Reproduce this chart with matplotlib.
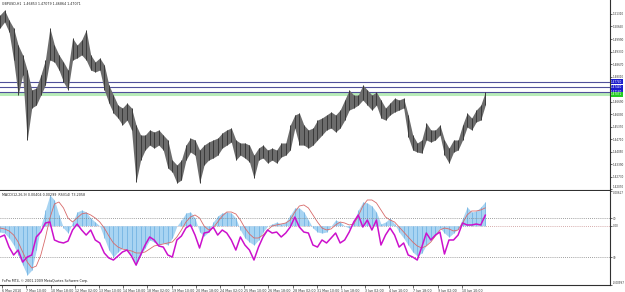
import matplotlib
matplotlib.use("Agg")
import matplotlib.pyplot as plt
import matplotlib.transforms as mtransforms
import numpy as np

# one sample every 6 H1 bars
step = 6

price_hi = [1.5126, 1.5152, 1.5099, 1.5057, 1.4967, 1.4915, 1.4835, 1.4730, 1.4740, 1.4809,
            1.4888, 1.5057, 1.4967, 1.4915, 1.4878, 1.4835, 1.5004, 1.4967, 1.4994, 1.5047,
            1.4915, 1.4878, 1.4899, 1.4862, 1.4756, 1.4703, 1.4650, 1.4635, 1.4661, 1.4635,
            1.4545, 1.4492, 1.4492, 1.4519, 1.4508, 1.4519, 1.4492, 1.4466, 1.4360, 1.4334,
            1.4360, 1.4439, 1.4476, 1.4466, 1.4413, 1.4439, 1.4455, 1.4466, 1.4476, 1.4503,
            1.4519, 1.4529, 1.4466, 1.4450, 1.4450, 1.4439, 1.4386, 1.4423, 1.4439, 1.4413,
            1.4423, 1.4413, 1.4450, 1.4450, 1.4545, 1.4598, 1.4608, 1.4545, 1.4519, 1.4529,
            1.4571, 1.4582, 1.4598, 1.4614, 1.4598, 1.4624, 1.4677, 1.4730, 1.4703, 1.4703,
            1.4756, 1.4730, 1.4703, 1.4719, 1.4677, 1.4635, 1.4661, 1.4687, 1.4677, 1.4687,
            1.4598, 1.4492, 1.4450, 1.4466, 1.4556, 1.4519, 1.4519, 1.4545, 1.4466, 1.4423,
            1.4466, 1.4466, 1.4545, 1.4608, 1.4582, 1.4624, 1.4650, 1.4719]
price_lo = [1.5057, 1.5089, 1.5036, 1.4888, 1.4703, 1.4809, 1.4466, 1.4635, 1.4650, 1.4703,
            1.4756, 1.4888, 1.4878, 1.4835, 1.4772, 1.4730, 1.4888, 1.4899, 1.4915, 1.4888,
            1.4835, 1.4825, 1.4835, 1.4730, 1.4661, 1.4608, 1.4582, 1.4545, 1.4571, 1.4519,
            1.4244, 1.4360, 1.4413, 1.4439, 1.4423, 1.4439, 1.4413, 1.4318, 1.4297, 1.4239,
            1.4255, 1.4360, 1.4402, 1.4386, 1.4239, 1.4334, 1.4360, 1.4371, 1.4386, 1.4423,
            1.4439, 1.4455, 1.4360, 1.4386, 1.4371, 1.4350, 1.4265, 1.4360, 1.4371, 1.4344,
            1.4360, 1.4344, 1.4376, 1.4386, 1.4413, 1.4529, 1.4439, 1.4439, 1.4423, 1.4439,
            1.4466, 1.4492, 1.4519, 1.4529, 1.4508, 1.4529, 1.4571, 1.4624, 1.4635, 1.4650,
            1.4677, 1.4650, 1.4624, 1.4650, 1.4582, 1.4571, 1.4598, 1.4614, 1.4624, 1.4635,
            1.4482, 1.4413, 1.4402, 1.4397, 1.4466, 1.4455, 1.4466, 1.4492, 1.4386, 1.4344,
            1.4402, 1.4413, 1.4466, 1.4534, 1.4519, 1.4561, 1.4571, 1.4650]

macd_hist = [-0.00106, -0.00123, -0.00207, -0.00324, -0.00493, -0.00661, -0.00829, -0.00745, -0.00409, -0.00005,
             0.00264, 0.00516, 0.00432, 0.00180, -0.00039, -0.00123, 0.00062, 0.00230, 0.00264, 0.00230,
             0.00129, 0.00062, -0.00005, -0.00207, -0.00409, -0.00526, -0.00442, -0.00375, -0.00409, -0.00493,
             -0.00661, -0.00493, -0.00375, -0.00240, -0.00274, -0.00324, -0.00291, -0.00324, -0.00207, -0.00005,
             0.00096, 0.00214, 0.00230, 0.00129, -0.00106, -0.00173, -0.00106, 0.00062, 0.00163, 0.00214,
             0.00230, 0.00214, 0.00129, -0.00072, -0.00207, -0.00274, -0.00324, -0.00240, -0.00106, -0.00005,
             0.00029, 0.00062, 0.00029, 0.00062, 0.00180, 0.00298, 0.00298, 0.00230, 0.00096, -0.00039,
             -0.00106, -0.00123, -0.00106, -0.00005, 0.00096, 0.00062, -0.00005, -0.00039, 0.00062, 0.00264,
             0.00398, 0.00382, 0.00331, 0.00230, 0.00029, 0.00062, 0.00129, 0.00029, -0.00106, -0.00207,
             -0.00324, -0.00442, -0.00509, -0.00459, -0.00324, -0.00240, -0.00156, -0.00039, -0.00123, -0.00190,
             -0.00123, -0.00055, 0.00129, 0.00314, 0.00230, 0.00247, 0.00314, 0.00404]
macd_signal = [-0.00039, -0.00055, -0.00089, -0.00156, -0.00274, -0.00442, -0.00610, -0.00711, -0.00678, -0.00493,
               -0.00207, 0.00129, 0.00364, 0.00398, 0.00298, 0.00129, 0.00062, 0.00129, 0.00197, 0.00214,
               0.00180, 0.00129, 0.00062, -0.00039, -0.00173, -0.00291, -0.00358, -0.00392, -0.00409, -0.00425,
               -0.00459, -0.00459, -0.00442, -0.00392, -0.00341, -0.00324, -0.00308, -0.00291, -0.00274, -0.00190,
               -0.00072, 0.00062, 0.00146, 0.00180, 0.00129, -0.00005, -0.00072, -0.00039, 0.00062, 0.00163,
               0.00230, 0.00230, 0.00197, 0.00096, -0.00039, -0.00140, -0.00207, -0.00207, -0.00156, -0.00072,
               -0.00005, 0.00012, 0.00029, 0.00045, 0.00096, 0.00230, 0.00331, 0.00348, 0.00298, 0.00180,
               0.00062, -0.00039, -0.00072, -0.00055, 0.00012, 0.00062, 0.00045, 0.00012, 0.00029, 0.00163,
               0.00331, 0.00432, 0.00432, 0.00382, 0.00264, 0.00146, 0.00096, 0.00062, -0.00022, -0.00106,
               -0.00190, -0.00274, -0.00341, -0.00375, -0.00341, -0.00274, -0.00173, -0.00072, -0.00039, -0.00055,
               -0.00089, -0.00072, 0.00045, 0.00180, 0.00247, 0.00247, 0.00264, 0.00299]
rsi = [50.7, 52.7, 40.3, 32.1, 37.2, 24.8, 30.0, 32.1, 50.7, 55.8,
       65.1, 66.2, 47.6, 45.5, 44.5, 46.5, 57.9, 64.1, 57.9, 52.7,
       57.9, 47.6, 44.5, 34.1, 29.0, 26.9, 31.0, 35.2, 37.2, 31.0,
       21.7, 32.1, 42.4, 50.7, 47.6, 41.4, 40.3, 32.1, 30.0, 47.6,
       51.7, 60.0, 63.1, 52.7, 39.3, 54.8, 55.8, 61.0, 52.7, 57.9,
       54.8, 47.6, 37.2, 50.7, 42.4, 37.2, 26.9, 40.3, 50.7, 57.9,
       54.8, 55.8, 50.7, 54.8, 61.0, 71.3, 61.0, 55.8, 54.8, 42.4,
       40.3, 47.6, 44.5, 49.6, 54.8, 44.5, 47.6, 55.8, 66.2, 73.4,
       61.0, 68.2, 57.9, 68.2, 42.4, 52.7, 60.0, 52.7, 40.3, 44.5,
       32.1, 30.0, 26.9, 40.3, 54.8, 47.6, 52.7, 55.8, 33.1, 47.6,
       47.6, 52.7, 65.1, 63.1, 63.1, 64.1, 63.1, 73.2]

price_ticks = [1.51310, 1.50650, 1.49990, 1.49330, 1.48670, 1.48010,
               1.46690, 1.46030, 1.45370, 1.44710, 1.44050, 1.43390, 1.42730, 1.42070]
level_lines = [1.47740, 1.47440, 1.47180]
bid = 1.47071
date_labels = ["6 May 2010", "7 May 10:00", "10 May 18:00", "12 May 02:00", "13 May 10:00",
               "14 May 18:00", "18 May 02:00", "19 May 10:00", "20 May 18:00", "24 May 02:00",
               "25 May 10:00", "26 May 18:00", "28 May 02:00", "31 May 10:00", "1 Jun 18:00",
               "3 Jun 02:00", "4 Jun 10:00", "7 Jun 18:00", "9 Jun 02:00", "10 Jun 10:00"]
date_bars = [3 + 32 * i for i in range(len(date_labels))]

x = np.arange(len(price_hi)) * step
fs = 2.3
fsr = 2.0
axcol = "#303030"

fig = plt.figure(figsize=(6.25, 2.92), dpi=100)
W, H = 625.0, 292.0
ax1 = fig.add_axes([0, 1 - 190 / H, 610 / W, 190 / H])
ax2 = fig.add_axes([0, 1 - 285 / H, 610 / W, 94 / H], sharex=ax1)
ax3 = ax2.twinx()

for ax in (ax1, ax2):
    ax.set_facecolor("white")
    ax.spines["left"].set_visible(False)
    ax.spines["top"].set_visible(False)
    ax.spines["right"].set_color(axcol)
    ax.spines["bottom"].set_color(axcol)
    ax.spines["right"].set_linewidth(0.8)
    ax.spines["bottom"].set_linewidth(0.8)
for s in ax3.spines.values():
    s.set_visible(False)
for ax in (ax1, ax2, ax3):
    ax.yaxis.tick_right()

# ---- price panel
ax1.axhline(bid, color="#b8ecb8", lw=2.2, zorder=1)
for lv in level_lines:
    ax1.axhline(lv, color="#50509a", lw=0.8, zorder=2)
ax1.fill_between(x, price_lo, price_hi, color="#6c6c6c", lw=0, zorder=3)
ax1.vlines(x, price_lo, price_hi, color="#3a3a3a", lw=0.7, zorder=4)
ax1.set_xlim(0, 807)
ax1.set_ylim(1.42018, 1.52049)
ax1.set_yticks(price_ticks)
ax1.set_yticklabels(["%.5f" % p for p in price_ticks])
ax1.tick_params(axis="y", length=1.5, width=0.5, pad=0.8, labelsize=fsr, colors=axcol)
ax1.tick_params(axis="x", length=0, labelbottom=False)
ax1.get_yticklabels()[-1].set_va("bottom")
ax1.text(0.004, 0.988, "GBPUSD,H1  1.46853 1.47079 1.46864 1.47071",
         transform=ax1.transAxes, fontsize=fs, va="top", ha="left", color="#202020")

trans = mtransforms.blended_transform_factory(ax1.transAxes, ax1.transData)
for lv in level_lines:
    ax1.text(1.002, lv, "%.5f" % lv, transform=trans, fontsize=fsr, color="white",
             va="center", ha="left", clip_on=False, zorder=10,
             bbox=dict(facecolor="#1c1ccc", edgecolor="none", pad=0.4))
ax1.text(1.002, bid, "%.5f" % bid, transform=trans, fontsize=fsr, color="white",
         va="center", ha="left", clip_on=False, zorder=10,
         bbox=dict(facecolor="#22cc22", edgecolor="none", pad=0.4))

# ---- MACD + RSI panel
ax2.fill_between(x, 0, macd_hist, color="#a8d4f2", lw=0, zorder=2)
ax2.vlines(x, 0, macd_hist, color="#6aaee0", lw=0.5, zorder=2)
ax2.plot(x, macd_signal, color="#d86a6a", lw=0.6, zorder=3)
ax2.axhline(0, color="#c89090", lw=0.6, ls=(0, (1, 1.5)), zorder=1)
ax2.set_ylim(-0.00997, 0.00583)
ax2.set_yticks([0.00583, 0, -0.00997])
ax2.set_yticklabels(["0.00617", "0.00", "-0.00997"])
ax2.tick_params(axis="y", length=1.5, width=0.5, pad=0.8, labelsize=fsr, colors=axcol)
lbl = ax2.get_yticklabels()
lbl[0].set_va("top")
lbl[2].set_va("bottom")

ax3.plot(x, rsi, color="#cc11cc", lw=1.1, zorder=4)
ax3.axhline(70, color="#808080", lw=0.6, ls=(0, (1, 1.5)))
ax3.axhline(30, color="#808080", lw=0.6, ls=(0, (1, 1.5)))
ax3.set_ylim(1.1, 98.2)
ax3.set_yticks([70, 30])
ax3.set_yticklabels(["70", "30"])
ax3.tick_params(axis="y", length=1.5, width=0.5, pad=0.8, labelsize=fsr, colors=axcol)

ax2.set_xticks(date_bars)
ax2.set_xticklabels(date_labels, ha="left")
ax2.tick_params(axis="x", length=2, width=0.5, pad=1, labelsize=fs, colors=axcol)
ax2.set_xlim(0, 807)

ax2.text(0.004, 0.975, "MACD(12,26,9) 0.00404 0.00299  RSI(14) 73.2058",
         transform=ax2.transAxes, fontsize=fs, va="top", ha="left", color="#202020")
ax2.text(0.004, 0.02, "FxPro MT4, \u00a9 2001-2009 MetaQuotes Software Corp.",
         transform=ax2.transAxes, fontsize=fs, va="bottom", ha="left", color="#202020")

fig.savefig("out.png", dpi=100, facecolor="white")
